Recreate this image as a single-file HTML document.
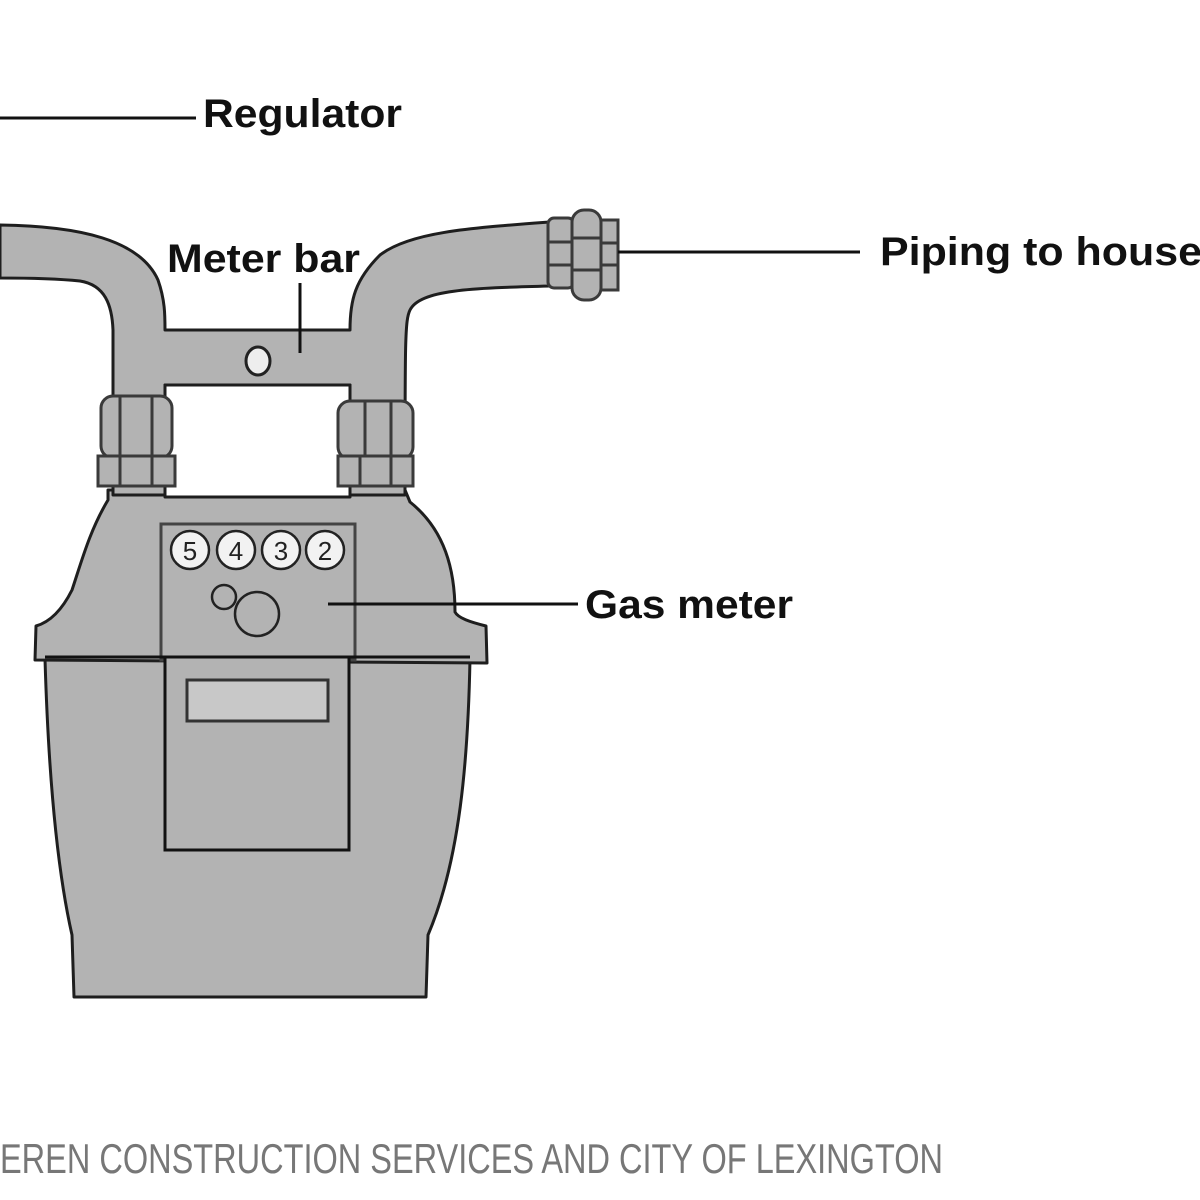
<!DOCTYPE html>
<html><head><meta charset="utf-8"><style>html,body{margin:0;padding:0;background:#fff;}svg{display:block}</style></head>
<body>
<svg width="1200" height="1200" viewBox="0 0 1200 1200" xmlns="http://www.w3.org/2000/svg">
<g stroke="#1e1e1e" stroke-width="3" fill="#b3b3b3" stroke-linejoin="round">
<path d="M45,659 L470,659 C468,760 460,860 428,935 L426,997 L74,997 L72,935 C55,860 48,760 45,659 Z"/>
<path d="M108,490 L108,500 C90,530 82,560 72,590 C62,610 50,622 36,626 L35,660 L487,663 L486,626 C470,622 458,618 455,612 C455,570 445,530 410,502 L405,490 Z"/>
<path d="M0,225 C80,226 140,240 158,280 C165,300 165,315 165,330 L350,330 C350,300 355,280 380,255 C410,232 470,228 550,222 L550,286 C470,288 420,290 410,310 C405,320 405,340 405,495 L350,495 L350,385 L165,385 L165,495 L113,495 L113,330 C112,305 105,285 80,281 C50,278 20,278 0,278 Z"/>
<rect x="165" y="385" width="185" height="112" fill="#fff"/>
</g>
<g stroke="#3a3a3a" stroke-width="3" fill="#b3b3b3">
<rect x="101" y="396" width="71" height="62" rx="12"/>
<line x1="120" y1="396" x2="120" y2="458"/><line x1="152" y1="396" x2="152" y2="458"/>
<rect x="98" y="456" width="77" height="30"/>
<line x1="120" y1="456" x2="120" y2="486"/><line x1="152" y1="456" x2="152" y2="486"/>
<rect x="338" y="401" width="75" height="58" rx="12"/>
<line x1="365" y1="401" x2="365" y2="459"/><line x1="391" y1="401" x2="391" y2="459"/>
<rect x="338" y="456" width="75" height="30"/>
<line x1="360" y1="456" x2="360" y2="486"/><line x1="391" y1="456" x2="391" y2="486"/>
<rect x="548" y="218" width="26" height="70" rx="6"/>
<line x1="548" y1="242" x2="574" y2="242"/><line x1="548" y1="265" x2="574" y2="265"/>
<rect x="600" y="220" width="18" height="70"/>
<line x1="600" y1="243" x2="618" y2="243"/><line x1="600" y1="265" x2="618" y2="265"/>
<rect x="572" y="210" width="29" height="90" rx="12"/>
<line x1="572" y1="238" x2="601" y2="238"/><line x1="572" y1="270" x2="601" y2="270"/>
</g>
<ellipse cx="258" cy="361" rx="12" ry="14" fill="#eee" stroke="#222" stroke-width="3"/>
<rect x="161" y="524" width="194" height="136" fill="#b3b3b3" stroke="#444" stroke-width="3"/>
<rect x="165" y="657" width="184" height="193" fill="#b3b3b3" stroke="#111" stroke-width="3"/>
<line x1="45" y1="657" x2="470" y2="657" stroke="#111" stroke-width="3"/>
<rect x="187" y="680" width="141" height="41" fill="#c8c8c8" stroke="#333" stroke-width="3"/>
<g fill="#f2f2f2" stroke="#222" stroke-width="2.5">
<circle cx="190" cy="550" r="19"/><circle cx="236" cy="550" r="19"/><circle cx="281" cy="550" r="19"/><circle cx="325" cy="550" r="19"/>
</g>
<g font-family="Liberation Sans, sans-serif" font-size="26" fill="#222" text-anchor="middle">
<text x="190" y="560">5</text><text x="236" y="560">4</text><text x="281" y="560">3</text><text x="325" y="560">2</text>
</g>
<circle cx="224" cy="597" r="12" fill="none" stroke="#222" stroke-width="2.5"/>
<circle cx="257" cy="614" r="22" fill="none" stroke="#222" stroke-width="2.5"/>
<g stroke="#111" stroke-width="3">
<line x1="0" y1="118" x2="196" y2="118"/>
<line x1="300" y1="283" x2="300" y2="353"/>
<line x1="618" y1="252" x2="860" y2="252"/>
<line x1="328" y1="604" x2="578" y2="604"/>
</g>
<g font-family="Liberation Sans, sans-serif" font-weight="bold" font-size="40" fill="#111" lengthAdjust="spacingAndGlyphs">
<text x="203" y="127" textLength="199" lengthAdjust="spacingAndGlyphs">Regulator</text>
<text x="167" y="272" textLength="193" lengthAdjust="spacingAndGlyphs">Meter bar</text>
<text x="880" y="265" textLength="322" lengthAdjust="spacingAndGlyphs">Piping to house</text>
<text x="585" y="618" textLength="208" lengthAdjust="spacingAndGlyphs">Gas meter</text>
</g>
<text x="0" y="1173" font-family="Liberation Sans, sans-serif" font-size="42" fill="#777" textLength="943" lengthAdjust="spacingAndGlyphs">EREN CONSTRUCTION SERVICES AND CITY OF LEXINGTON</text>
</svg>
</body></html>
